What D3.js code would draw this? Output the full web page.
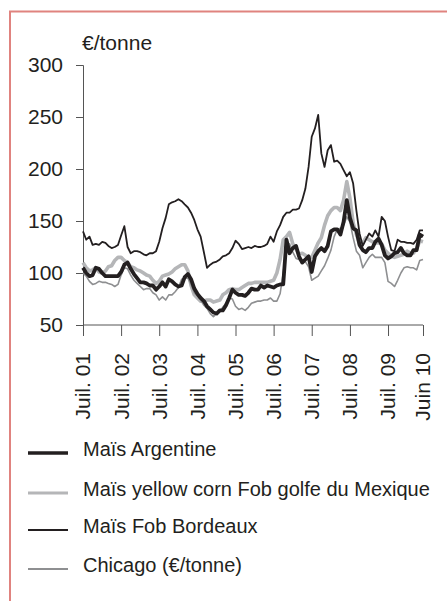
<!DOCTYPE html>
<html>
<head>
<meta charset="utf-8">
<script src="https://cdn.jsdelivr.net/npm/d3@7"></script>
<style>
  body { margin: 0; background: #fff; }
  svg { display: block; font-family: "Liberation Sans", Arial, sans-serif; }
</style>
</head>
<body>
<div id="chart"></div>
<script>
const width = 447;
const height = 601;

// monthly series, July 2001 -> June 2010 (EUR / tonne)
const argentine = [
  105, 100, 97, 98, 105, 104, 100, 97, 97, 97, 97, 97,
  101, 108, 110, 104, 99, 95, 91, 91, 90, 88, 88, 84,
  87, 91, 87, 94, 92, 89, 87, 88, 96, 99, 94, 85,
  80, 76, 73, 68, 65, 62, 61, 64, 64, 69, 76, 84,
  81, 79, 79, 78, 81, 85, 84, 84, 88, 86, 88, 87,
  86, 88, 89, 89, 132, 119, 124, 126, 116, 110, 113, 116,
  101, 116, 121, 124, 121, 126, 140, 142, 142, 137, 149, 170,
  153, 143, 141, 127, 122, 120, 124, 124, 130, 133, 127, 117,
  114, 116, 119, 120, 124, 119, 117, 117, 122, 122, 137, 135
];
const mexique = [
  110, 105, 102, 103, 105, 101, 100, 102, 106, 107, 112, 115,
  115, 112, 110, 106, 105, 103, 102, 100, 98, 97, 93, 90,
  92, 97, 98, 99, 101, 104, 106, 108, 108, 102, 88, 79,
  76, 73, 73, 74, 74, 72, 73, 74, 79, 81, 84, 85,
  84, 84, 86, 88, 90, 90, 91, 91, 91, 91, 91, 92,
  93, 100, 113, 132, 135, 139, 128, 123, 118, 119, 117, 114,
  115, 122, 129, 134, 146, 155, 160, 163, 163, 160, 170, 188,
  172, 148, 137, 128, 129, 134, 132, 130, 129, 129, 128, 122,
  119, 116, 115, 116, 117, 118, 121, 119, 119, 123, 131, 130
];
const bordeaux = [
  140, 132, 135, 127, 128, 127, 130, 129, 126, 124, 125, 127,
  136, 145, 125, 119, 121, 121, 120, 118, 117, 119, 119, 121,
  130, 143, 153, 166, 168, 169, 171, 169, 166, 163, 158, 151,
  142, 135, 120, 105, 108, 110, 111, 113, 116, 117, 119, 124,
  131, 128, 123, 124, 125, 124, 126, 125, 125, 126, 128, 135,
  130, 140, 146, 154, 158, 158, 161, 161, 162, 170, 181, 202,
  231, 239, 252, 215, 202, 218, 223, 207, 208, 205, 199, 193,
  197, 186, 160, 138, 126, 132, 138, 135, 141, 135, 154, 150,
  135, 122, 121, 132, 130, 130, 129, 129, 128, 132, 141, 141
];
const chicago = [
  100, 97, 92, 89, 90, 92, 91, 91, 90, 89, 87, 89,
  98, 105, 104, 98, 93, 90, 87, 84, 85, 85, 81, 79,
  74, 77, 74, 79, 79, 82, 86, 94, 95, 95, 89, 81,
  78, 74, 69, 66, 61, 58, 61, 63, 67, 71, 76, 75,
  68, 65, 66, 64, 67, 71, 72, 73, 73, 74, 74, 76,
  73, 73, 80, 100, 125, 128, 120, 114, 113, 110, 111, 106,
  93, 95, 97, 102, 107, 114, 122, 135, 142, 143, 146, 154,
  149, 134, 121, 117, 105, 110, 115, 118, 115, 115, 115, 110,
  92, 90, 87, 93, 100, 105, 106, 105, 105, 103, 112, 113
];

const tickLabels = ["Juil. 01", "Juil. 02", "Juil. 03", "Juil. 04", "Juil. 05",
  "Juil. 06", "Juil. 07", "Juil. 08", "Juil. 09", "Juin 10"];
const tickDates = [
  new Date(2001, 6, 1), new Date(2002, 6, 1), new Date(2003, 6, 1), new Date(2004, 6, 1),
  new Date(2005, 6, 1), new Date(2006, 6, 1), new Date(2007, 6, 1), new Date(2008, 6, 1),
  new Date(2009, 6, 1), new Date(2010, 5, 1)
];
const yTicks = [50, 100, 150, 200, 250, 300];
const legendNames = ["Maïs Argentine", "Maïs yellow corn Fob golfe du Mexique",
  "Maïs Fob Bordeaux", "Chicago (€/tonne)"];

const months = d3.timeMonth.range(new Date(2001, 6, 1), new Date(2010, 6, 1));

const series = [
  { name: legendNames[1], values: mexique, color: "#b5b6b8", width: 3.6, legendWidth: 3.2 },
  { name: legendNames[3], values: chicago, color: "#8e8f91", width: 1.6, legendWidth: 2 },
  { name: legendNames[2], values: bordeaux, color: "#231f20", width: 1.8, legendWidth: 2 },
  { name: legendNames[0], values: argentine, color: "#231f20", width: 3.8, legendWidth: 3.6 }
];

const svg = d3.select("#chart")
  .append("svg")
  .attr("width", width)
  .attr("height", height);

// frame
svg.append("path")
  .attr("d", `M10,${height}V11.5H${width}`)
  .attr("fill", "none")
  .attr("stroke", "#e0837f")
  .attr("stroke-width", 2);

const x = d3.scaleTime()
  .domain([new Date(2001, 6, 1), new Date(2010, 5, 1)])
  .range([83, 423]);

const y = d3.scaleLinear()
  .domain([50, 300])
  .range([325, 65]);

// y axis
const yAxis = svg.append("g")
  .attr("transform", "translate(83,0)")
  .call(d3.axisLeft(y).tickValues(yTicks).tickSize(7).tickPadding(13));
yAxis.select(".domain").attr("stroke", "#555");
yAxis.selectAll(".tick line").attr("stroke", "#555");
yAxis.selectAll("text")
  .attr("font-size", 21)
  .attr("fill", "#231f20")
  .attr("font-family", "Liberation Sans, Arial, sans-serif");

// x axis
const xAxis = svg.append("g")
  .attr("transform", "translate(0,325)")
  .call(d3.axisBottom(x).tickValues(tickDates).tickSize(11)
    .tickFormat((d, i) => tickLabels[i]));
xAxis.select(".domain").attr("stroke", "#555").attr("d", "M83,0H423");
xAxis.selectAll(".tick line").attr("stroke", "#555");
xAxis.selectAll("text")
  .attr("font-size", 21)
  .attr("fill", "#231f20")
  .attr("font-family", "Liberation Sans, Arial, sans-serif")
  .attr("text-anchor", "end")
  .attr("transform", "translate(0,28) rotate(-90)")
  .attr("x", 0)
  .attr("y", 0)
  .attr("dy", "0.33em");

svg.append("text")
  .attr("x", 82)
  .attr("y", 50)
  .attr("font-size", 21)
  .attr("fill", "#231f20")
  .text("€/tonne");

const line = d3.line()
  .x((d, i) => x(months[i]))
  .y(d => y(d));

svg.append("g")
  .selectAll("path")
  .data(series)
  .join("path")
  .attr("d", d => line(d.values))
  .attr("fill", "none")
  .attr("stroke", d => d.color)
  .attr("stroke-width", d => d.width)
  .attr("stroke-linejoin", "round");

// legend, in the original order
const legendOrder = [series[3], series[0], series[2], series[1]];
const legendY = [453, 493, 530, 569];

const legend = svg.append("g");
legend.selectAll("line")
  .data(legendOrder)
  .join("line")
  .attr("x1", 28)
  .attr("x2", 68)
  .attr("y1", (d, i) => legendY[i])
  .attr("y2", (d, i) => legendY[i])
  .attr("stroke", d => d.color)
  .attr("stroke-width", d => d.legendWidth);

legend.selectAll("text")
  .data(legendOrder)
  .join("text")
  .attr("x", 83)
  .attr("y", (d, i) => legendY[i] + 3)
  .attr("font-size", 20)
  .attr("fill", "#231f20")
  .text(d => d.name);
</script>
</body>
</html>
